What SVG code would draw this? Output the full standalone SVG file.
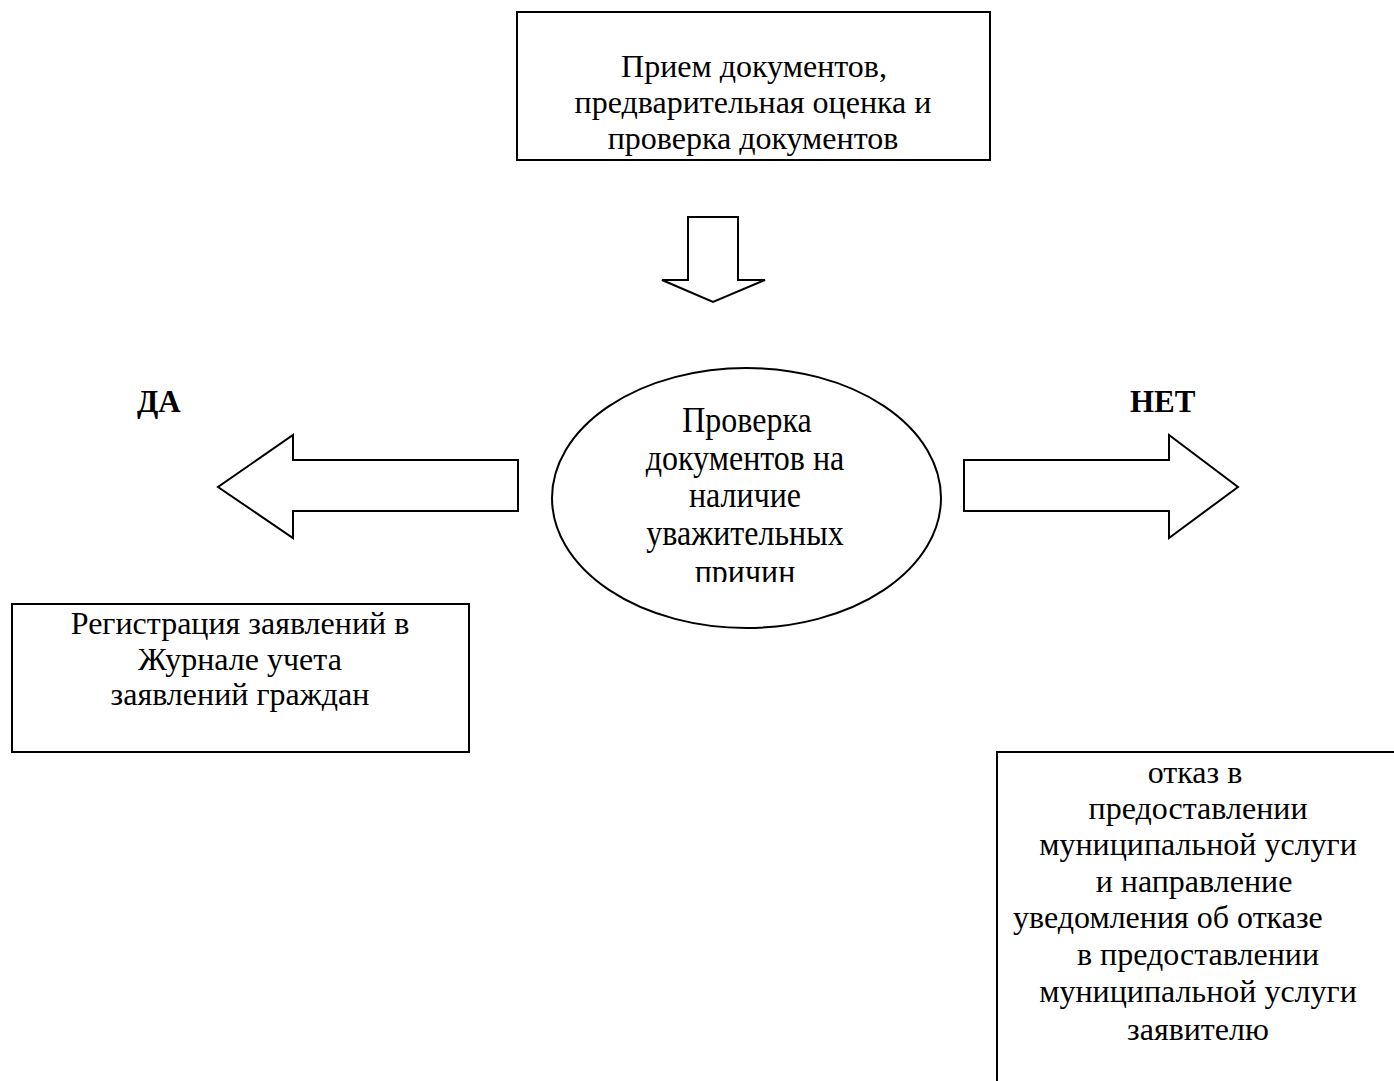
<svg xmlns="http://www.w3.org/2000/svg" width="1394" height="1081" viewBox="0 0 1394 1081">
<style>
.b{fill:#fff;stroke:#000;stroke-width:2}
.t{font-family:"Liberation Serif","Times New Roman",serif;font-size:32px;fill:#000;text-anchor:middle}
.l{font-family:"Liberation Serif","Times New Roman",serif;font-size:31px;font-weight:bold;fill:#000}
</style>
<defs><clipPath id="cp"><rect x="540" y="360" width="420" height="222"/></clipPath></defs>
<rect width="1394" height="1081" fill="#fff"/>
<g id="connectors">
<path class="b" d="M688 217 H738 V280 H765 L713 302 L662 280 H688 Z"/>
<path class="b" d="M518 460 H293 V435 L218 487 L293 538 V511 H518 Z"/>
<path class="b" d="M964 460 H1169 V435 L1238 487 L1169 538 V511 H964 Z"/>
</g>
<g id="n1">
<rect class="b" x="517" y="12" width="473" height="148"/>
<text class="t" x="754" y="77">Прием документов,</text>
<text class="t" x="753" y="113">предварительная оценка и</text>
<text class="t" x="753" y="149">проверка документов</text>
</g>
<g id="n2">
<ellipse class="b" cx="746.5" cy="498" rx="194.5" ry="130"/>
<g clip-path="url(#cp)">
<text class="t" transform="translate(747 432) scale(1 1.12)">Проверка</text>
<text class="t" transform="translate(745 469.5) scale(1 1.12)">документов на</text>
<text class="t" transform="translate(745 507) scale(1 1.12)">наличие</text>
<text class="t" transform="translate(745 544.5) scale(1 1.12)">уважительных</text>
<text class="t" transform="translate(745 584) scale(1 1.12)">причин</text>
</g>
</g>
<g id="lda"><text class="l" x="137" y="412">ДА</text></g>
<g id="lnet"><text class="l" x="1130" y="412">НЕТ</text></g>
<g id="n3">
<rect class="b" x="12" y="604" width="457" height="148"/>
<text class="t" x="240" y="634">Регистрация заявлений в</text>
<text class="t" x="240" y="670">Журнале учета</text>
<text class="t" x="240" y="705">заявлений граждан</text>
</g>
<g id="n4">
<path fill="none" stroke="#000" stroke-width="2" d="M997 1081 V752 H1394"/>
<text class="t" x="1195" y="783">отказ в</text>
<text class="t" x="1198" y="819">предоставлении</text>
<text class="t" x="1198" y="855">муниципальной услуги</text>
<text class="t" x="1194" y="892">и направление</text>
<text class="t" x="1013" y="928" style="text-anchor:start">уведомления об отказе</text>
<text class="t" x="1198" y="965">в предоставлении</text>
<text class="t" x="1198" y="1002">муниципальной услуги</text>
<text class="t" x="1198" y="1040">заявителю</text>
</g>
</svg>
